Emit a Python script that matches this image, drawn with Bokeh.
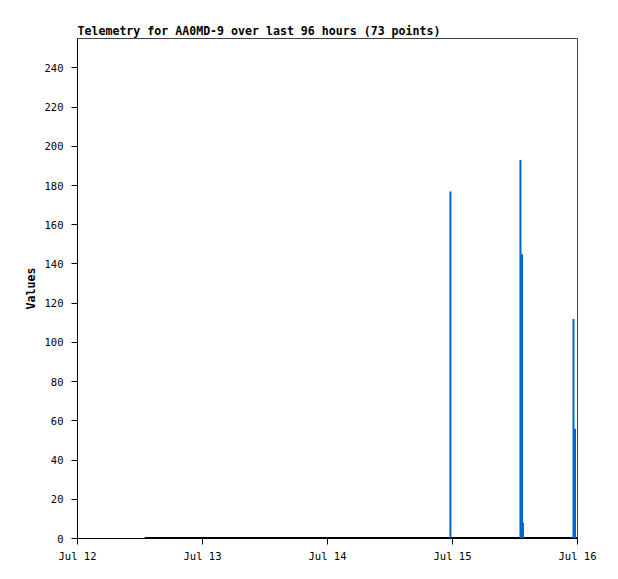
from datetime import datetime, timedelta
from bokeh.plotting import figure
from bokeh.models import Range1d, FixedTicker, DatetimeTickFormatter
from bokeh.embed import file_html
from bokeh.resources import INLINE

# ---- data (hours after Jul 12 00:00) ----
origin = datetime(2023, 7, 12)
baseline_hours = [12.9, 96.0]          # span of zero-valued readings
baseline_values = [0, 0]
spike_hours = [71.6, 85.05, 85.35, 85.53, 95.23, 95.52]
spike_values = [177, 193, 145, 8, 112, 56]
tick_days = [0, 1, 2, 3, 4]

title = "Telemetry for AA0MD-9 over last 96 hours (73 points)"
mono = "DejaVu Sans Mono"

def to_dt(h):
    return origin + timedelta(hours=h)

bx = [to_dt(h) for h in baseline_hours]
sx = [to_dt(h) for h in spike_hours]
ticks_ms = [(origin + timedelta(days=d) - datetime(1970, 1, 1)).total_seconds() * 1000 for d in tick_days]

p = figure(width=610, height=571, x_axis_type="datetime",
           x_range=Range1d(origin, origin + timedelta(days=4)),
           y_range=Range1d(0, 255),
           output_backend="svg", toolbar_location=None,
           min_border_left=77, min_border_right=33, min_border_top=38, min_border_bottom=33,
           title=title)

p.title.text_font = mono
p.title.text_font_size = "11.6px"
p.title.text_font_style = "bold"
p.title.text_color = "black"
p.title.align = "left"
p.title.standoff = 2
p.title.offset = 0

p.grid.visible = False
p.outline_line_color = "#444444"
p.outline_line_width = 1
p.background_fill_color = "white"
p.border_fill_color = "white"

p.line(bx, baseline_values, line_color="black", line_width=3)
p.vbar(x=sx, top=spike_values, bottom=0, width=timedelta(hours=0.38),
       fill_color="#0066cc", line_color=None)

xa = p.xaxis[0]
xa.ticker = FixedTicker(ticks=ticks_ms, minor_ticks=[])
xa.formatter = DatetimeTickFormatter(days="%b %d", months="%b %d", hours="%b %d")
ya = p.yaxis[0]
ya.ticker = FixedTicker(ticks=list(range(0, 241, 20)), minor_ticks=[])
ya.axis_label = "Values"
for ax in (xa, ya):
    ax.axis_line_color = "black"
    ax.major_tick_line_color = "black"
    ax.major_tick_out = 6
    ax.major_tick_in = 0
    ax.minor_tick_out = 0
    ax.minor_tick_in = 0
    ax.major_label_text_font = mono
    ax.major_label_text_font_size = "10.5px"
    ax.major_label_text_color = "black"
ya.major_label_standoff = 8
xa.major_label_standoff = 5
ya.axis_label_text_font = mono
ya.axis_label_text_font_size = "11.6px"
ya.axis_label_text_font_style = "bold"
ya.axis_label_standoff = 4
ya.axis_label_text_color = "black"

open("out.html", "w").write(file_html(p, INLINE))
